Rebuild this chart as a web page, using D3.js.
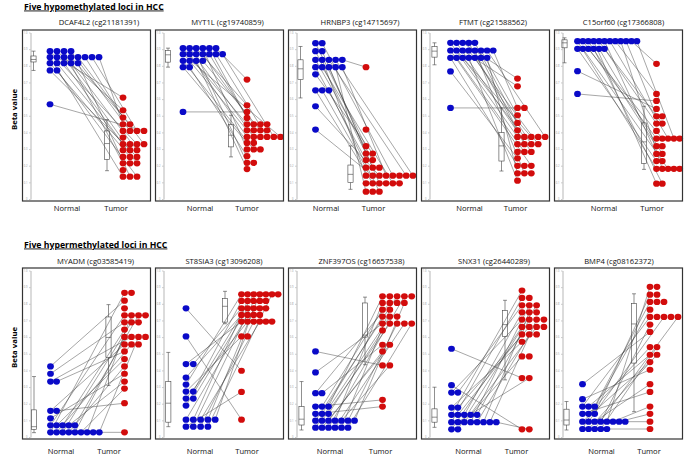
<!DOCTYPE html>
<html>
<head>
<meta charset="utf-8">
<script src="https://cdn.jsdelivr.net/npm/d3@7"></script>
<style>
  body { margin: 0; background: #fff; }
  text { font-family: "Open Sans", sans-serif; }
</style>
</head>
<body>
<div id="chart"></div>
<script>
// Data
const sectionTitles = ["Five hypomethylated loci in HCC", "Five hypermethylated loci in HCC"];
const panelTitles = [
  "DCAF4L2 (cg21181391)", "MYT1L (cg19740859)", "HRNBP3 (cg14715697)", "FTMT (cg21588562)", "C15orf60 (cg17366808)",
  "MYADM (cg03585419)", "ST8SIA3 (cg13096208)", "ZNF397OS (cg16657538)", "SNX31 (cg26440289)", "BMP4 (cg08162372)"
];
const groupLabels = ["Normal", "Tumor"];
const yTicks = [0, 0.1, 0.2, 0.3, 0.4, 0.5, 0.6, 0.7, 0.8, 0.9, 1.0];

// rows of dots: [beta, number of dots in that row]
const normalRows = [
  [[0.888,4],[0.852,8],[0.816,5],[0.772,2],[0.569,1]],
  [[0.906,6],[0.870,7],[0.830,4],[0.792,2],[0.523,1]],
  [[0.936,2],[0.888,2],[0.836,5],[0.792,5],[0.749,1],[0.653,3],[0.557,1],[0.417,1]],
  [[0.938,5],[0.892,8],[0.848,7],[0.766,1],[0.547,1]],
  [[0.948,12],[0.902,6],[0.768,1],[0.631,1]],
  [[0.424,1],[0.380,1],[0.333,2],[0.157,2],[0.112,1],[0.070,5],[0.028,9]],
  [[0.773,1],[0.604,1],[0.438,2],[0.357,1],[0.315,1],[0.273,2],[0.231,2],[0.189,1],[0.104,5],[0.062,4]],
  [[0.514,1],[0.388,1],[0.263,2],[0.183,3],[0.139,3],[0.098,7],[0.056,6]],
  [[0.530,1],[0.311,1],[0.267,2],[0.177,2],[0.133,5],[0.089,8],[0.046,2]],
  [[0.317,1],[0.227,1],[0.183,3],[0.139,3],[0.092,8],[0.048,5]]
];
const tumorRows = [
  [[0.609,1],[0.533,1],[0.489,1],[0.449,2],[0.409,4],[0.369,1],[0.329,4],[0.293,3],[0.253,3],[0.214,3],[0.174,1],[0.134,3]],
  [[0.717,1],[0.563,1],[0.523,1],[0.487,1],[0.449,4],[0.413,4],[0.373,6],[0.337,2],[0.298,3],[0.257,1],[0.217,2],[0.180,1]],
  [[0.792,1],[0.417,1],[0.317,1],[0.273,2],[0.234,2],[0.188,3],[0.140,8],[0.094,6],[0.044,3]],
  [[0.723,1],[0.677,1],[0.547,2],[0.503,1],[0.457,1],[0.413,1],[0.373,5],[0.329,4],[0.283,3],[0.244,1],[0.199,3],[0.154,3],[0.110,1]],
  [[0.812,1],[0.631,1],[0.589,1],[0.541,1],[0.497,2],[0.453,2],[0.409,1],[0.363,5],[0.317,2],[0.271,2],[0.228,2],[0.181,5],[0.092,2]],
  [[0.866,2],[0.819,1],[0.773,1],[0.731,4],[0.689,3],[0.645,1],[0.601,4],[0.556,3],[0.514,1],[0.468,1],[0.424,1],[0.380,1],[0.333,1],[0.291,1],[0.203,1],[0.028,1]],
  [[0.857,7],[0.817,5],[0.773,5],[0.733,4],[0.693,6],[0.604,2],[0.398,1],[0.271,1],[0.104,1]],
  [[0.845,5],[0.805,4],[0.765,2],[0.723,3],[0.681,5],[0.640,1],[0.554,2],[0.514,1],[0.430,2],[0.223,1],[0.183,1]],
  [[0.880,1],[0.835,2],[0.791,3],[0.749,3],[0.705,4],[0.661,4],[0.616,3],[0.572,1],[0.484,2],[0.354,2],[0.046,2]],
  [[0.902,2],[0.855,2],[0.811,3],[0.765,1],[0.721,5],[0.675,1],[0.631,1],[0.540,2],[0.494,2],[0.450,1],[0.404,1],[0.317,1],[0.271,1],[0.183,1],[0.139,1],[0.092,1],[0.048,1]]
];
// boxplot stats: [low whisker, q1, median, q3, high whisker]
const normalBox = [
  [0.772,0.823,0.838,0.859,0.888],
  [0.792,0.822,0.866,0.892,0.906],
  [0.607,0.717,0.782,0.836,0.916],
  [0.806,0.852,0.888,0.916,0.938],
  [0.818,0.908,0.938,0.956,0.968],
  [0.026,0.046,0.062,0.163,0.363],
  [0.062,0.089,0.203,0.333,0.508],
  [0.042,0.072,0.107,0.183,0.333],
  [0.058,0.089,0.119,0.169,0.299],
  [0.042,0.072,0.102,0.167,0.213]
];
const tumorBox = [
  [0.170,0.238,0.333,0.409,0.477],
  [0.253,0.313,0.383,0.447,0.503],
  [0.058,0.098,0.148,0.204,0.319],
  [0.168,0.228,0.319,0.399,0.547],
  [0.178,0.214,0.343,0.457,0.557],
  [0.309,0.478,0.598,0.721,0.795],
  [0.680,0.690,0.785,0.831,0.875],
  [0.434,0.600,0.612,0.805,0.840],
  [0.343,0.604,0.675,0.759,0.821],
  [0.152,0.444,0.679,0.801,0.860]
];
// for each normal dot (top to bottom, left to right) the index of its paired tumor dot
const pairs = [
  [12,1,20,6,24,0,15,4,13,2,7,3,18,10,22,16,25,19,26,8],
  [4,13,1,20,9,0,17,12,24,5,3,15,16,21,8,26,10,18,23,2],
  [2,14,3,20,6,10,16,17,0,5,22,8,24,13,4,19,7,26,12,11],
  [7,18,0,13,5,22,9,1,15,24,4,11,2,20,17,8,26,14,6,23,19,3],
  [20,9,14,25,6,16,11,1,21,4,0,12,18,22,10,26,17,7,3,2],
  [2,8,13,19,16,25,22,4,20,11,23,6,0,17,9,21,12,24,5,26,14],
  [29,31,21,12,17,0,27,7,22,13,2,18,8,24,3,14,30,9,23,5],
  [23,14,6,20,25,9,0,26,11,19,2,15,22,5,24,16,8,12,21,3,17,10,18],
  [23,25,9,3,20,14,0,17,6,21,10,1,24,15,4,18,7,11,26,13,5],
  [14,20,8,17,4,22,15,2,19,10,21,13,0,23,24,25,7,18,12,16,26]
];

// Layout (offsets inside each panel)
const layout = [
  {nBox:11,   nStart:27.5, ndx:7,   tBox:84.5, tStart:100.5, tdx:7,   nLabel:44.5, tLabel:93.5, title:12.5},
  {nBox:12.5, nStart:27.5, ndx:6.6, tBox:75.5, tStart:91.5,  tdx:6.7, nLabel:44.5, tLabel:91.5, title:8},
  {nBox:12,   nStart:27,   ndx:6.7, tBox:62,   tStart:77.5,  tdx:6.7, nLabel:37.5, tLabel:85,   title:7.5},
  {nBox:13,   nStart:29,   ndx:6.1, tBox:80,   tStart:96,    tdx:6.9, nLabel:48,   tLabel:94,   title:7.5},
  {nBox:10,   nStart:23,   ndx:5.4, tBox:89.5, tStart:102,   tdx:5.8, nLabel:49.5, tLabel:97.5, title:5},
  {nBox:11.5, nStart:28,   ndx:6.1, tBox:86,   tStart:102,   tdx:7,   nLabel:38.5, tLabel:86.5, title:9},
  {nBox:12.8, nStart:30.5, ndx:7.3, tBox:69.5, tStart:86,    tdx:6.1, nLabel:44.5, tLabel:91.5, title:4.5},
  {nBox:13,   nStart:27,   ndx:6.5, tBox:76.5, tStart:94,    tdx:7.3, nLabel:41.5, tLabel:92,   title:9},
  {nBox:13,   nStart:30,   ndx:6.4, tBox:83.5, tStart:100.5, tdx:7.3, nLabel:47,   tLabel:95,   title:8.5},
  {nBox:12,   nStart:28,   ndx:6.1, tBox:79.5, tStart:95.5,  tdx:7,   nLabel:47,   tLabel:94.5, title:0.5}
];
const rowsGeom = [
  {top: 30, bottom: 201, section: 9.5, title: 25, label: 211},
  {top: 268, bottom: 439, section: 247.5, title: 263.5, label: 454}
];
const panelW = 128, firstLeft = 22.5, step = 133;
const blue = "#0a0ac8", red = "#d20c0c";

const svg = d3.select("#chart").append("svg")
  .attr("width", 686).attr("height", 457);

// section titles and y labels
rowsGeom.forEach((g, r) => {
  svg.append("text")
    .attr("x", 24).attr("y", g.section)
    .attr("font-size", 8.7).attr("font-weight", "bold")
    .style("text-decoration", "underline")
    .text(sectionTitles[r]);
  const cy = (g.top + g.bottom) / 2 - 6;
  svg.append("text")
    .attr("transform", `translate(16.5, ${cy}) rotate(-90)`)
    .attr("text-anchor", "middle")
    .attr("font-size", 7.8).attr("font-weight", "bold")
    .text("Beta value");
});

const flat = (rows) => rows.flatMap(([v, c]) => d3.range(c).map((k) => ({ v, k })));

panelTitles.forEach((title, i) => {
  const g = rowsGeom[Math.floor(i / 5)];
  const L = layout[i];
  const left = firstLeft + (i % 5) * step;

  const yScale = d3.scaleLinear().domain([0, 1])
    .range([g.bottom - 2, g.top + 2.5]);
  const xNormal = d3.scaleLinear().domain([0, 1])
    .range([left + L.nStart, left + L.nStart + L.ndx]);
  const xTumor = d3.scaleLinear().domain([0, 1])
    .range([left + L.tStart, left + L.tStart + L.tdx]);

  const ctr = svg.append("g");

  // title
  ctr.append("text")
    .attr("x", left + panelW / 2 + L.title).attr("y", g.title)
    .attr("text-anchor", "middle").attr("font-size", 7.6)
    .attr("fill", "#111")
    .text(title);

  // axis
  const yAxis = d3.axisLeft(yScale)
    .tickValues(yTicks)
    .tickFormat((d) => (d === 0 ? "0" : d.toFixed(1)))
    .tickSize(1.5).tickSizeOuter(0).tickPadding(1.5);
  const axisG = ctr.append("g")
    .attr("transform", `translate(${left + 8}, 0)`)
    .call(yAxis);
  axisG.select(".domain").attr("stroke", "#999").attr("stroke-width", 0.7);
  axisG.selectAll(".tick line").attr("stroke", "#999").attr("stroke-width", 0.5);
  axisG.selectAll(".tick text").attr("font-size", 2.6).attr("fill", "#999")
    .attr("font-family", "Open Sans, sans-serif");

  const nDots = flat(normalRows[i]);
  const tDots = flat(tumorRows[i]);

  // paired lines
  ctr.append("g").selectAll("line")
    .data(pairs[i].map((t, n) => [nDots[n], tDots[t]]).filter((p) => p[0] && p[1]))
    .join("line")
    .attr("x1", (d) => xNormal(d[0].k)).attr("y1", (d) => yScale(d[0].v))
    .attr("x2", (d) => xTumor(d[1].k)).attr("y2", (d) => yScale(d[1].v))
    .attr("stroke", "#3a3a3a").attr("stroke-width", 0.45);

  // boxplots
  const drawBox = (x, s) => {
    const bg = ctr.append("g").attr("stroke", "#444").attr("stroke-width", 0.6).attr("fill", "none");
    bg.append("line").attr("x1", x).attr("x2", x).attr("y1", yScale(s[0])).attr("y2", yScale(s[1]));
    bg.append("line").attr("x1", x).attr("x2", x).attr("y1", yScale(s[3])).attr("y2", yScale(s[4]));
    [s[0], s[4]].forEach((v) => bg.append("line")
      .attr("x1", x - 2).attr("x2", x + 2).attr("y1", yScale(v)).attr("y2", yScale(v)));
    bg.append("rect").attr("x", x - 2.6).attr("width", 5.2)
      .attr("y", yScale(s[3])).attr("height", yScale(s[1]) - yScale(s[3]));
    bg.append("line").attr("x1", x - 2.6).attr("x2", x + 2.6)
      .attr("y1", yScale(s[2])).attr("y2", yScale(s[2]));
  };
  drawBox(left + L.nBox, normalBox[i]);
  drawBox(left + L.tBox, tumorBox[i]);

  // dots
  ctr.append("g").selectAll("ellipse").data(nDots).join("ellipse")
    .attr("cx", (d) => xNormal(d.k)).attr("cy", (d) => yScale(d.v))
    .attr("rx", 3.4).attr("ry", 3.1).attr("fill", blue);
  ctr.append("g").selectAll("ellipse").data(tDots).join("ellipse")
    .attr("cx", (d) => xTumor(d.k)).attr("cy", (d) => yScale(d.v))
    .attr("rx", 3.4).attr("ry", 3.1).attr("fill", red);

  // frame
  ctr.append("rect")
    .attr("x", left).attr("y", g.top)
    .attr("width", panelW).attr("height", g.bottom - g.top)
    .attr("fill", "none").attr("stroke", "#333").attr("stroke-width", 1.2);

  // group labels
  [L.nLabel, L.tLabel].forEach((dx, j) => {
    ctr.append("text")
      .attr("x", left + dx).attr("y", g.label)
      .attr("text-anchor", "middle").attr("font-size", 7.6)
      .attr("fill", "#111")
      .text(groupLabels[j]);
  });
});
</script>
</body>
</html>
